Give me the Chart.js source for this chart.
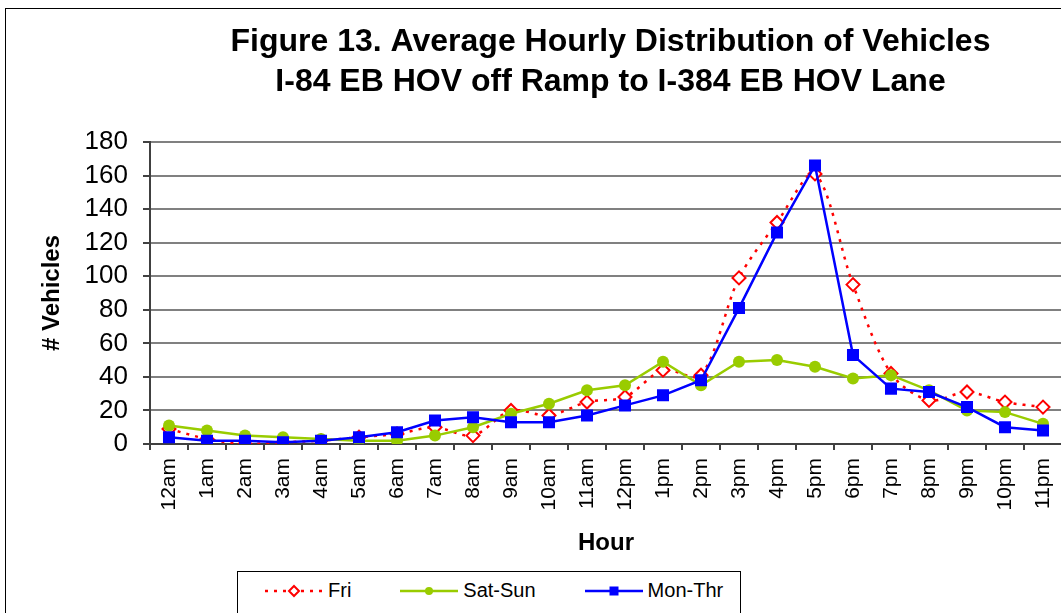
<!DOCTYPE html>
<html>
<head>
<meta charset="utf-8">
<script src="https://cdn.jsdelivr.net/npm/chart.js@4"></script>
<style>
  html, body { margin: 0; padding: 0; background: #fff; overflow: hidden; }
  body { width: 1061px; height: 613px; position: relative; font-family: "Liberation Sans", Arial, sans-serif; }
  #frame { position: absolute; left: 5px; top: 8px; width: 1300px; height: 700px; border: 1px solid #000; }
  #chart { display: block; }
  #legend {
    position: absolute; left: 237px; top: 571px; width: 504px; height: 60px;
    border: 1px solid #000; background: #fff;
    display: flex; align-items: flex-start; padding: 7px 0 0 27px; box-sizing: border-box;
    font-size: 20px; color: #000; white-space: nowrap;
  }
  .item { display: flex; align-items: center; flex-shrink: 0; margin-right: 49px; }
  .item span { margin-left: 5px; }
</style>
</head>
<body>
<div id="frame"><canvas id="chart" width="1209" height="560"></canvas></div>
<div id="legend"></div>
<script>
const FONT = "'Liberation Sans', Arial, sans-serif";

const hours = ["12am", "1am", "2am", "3am", "4am", "5am", "6am", "7am", "8am", "9am", "10am", "11am",
  "12pm", "1pm", "2pm", "3pm", "4pm", "5pm", "6pm", "7pm", "8pm", "9pm", "10pm", "11pm"];

const fri = [9, 3, 0, 1, 2, 4, 6, 10, 5, 20, 17, 25, 28, 44, 41, 99, 132, 161, 95, 42, 26, 31, 25, 22];
const satSun = [11, 8, 5, 4, 3, 2, 2, 5, 10, 18, 24, 32, 35, 49, 35, 49, 50, 46, 39, 41, 32, 20, 19, 12];
const monThr = [4, 2, 2, 1, 2, 4, 7, 14, 16, 13, 13, 17, 23, 29, 38, 81, 126, 166, 53, 33, 31, 22, 10, 8];

const yTicks = [0, 20, 40, 60, 80, 100, 120, 140, 160, 180];

const titleLines = [
  "Figure 13. Average Hourly Distribution of Vehicles",
  "I-84 EB HOV off Ramp to I-384 EB HOV Lane",
];

const datasets = [
  {
    label: "Fri",
    data: fri,
    borderColor: "#ff0000",
    borderWidth: 2.5,
    borderDash: [3, 6],
    tension: 0.3,
    pointStyle: "rectRot",
    pointRadius: 6.5,
    pointBorderWidth: 2,
    pointBorderColor: "#ff0000",
    pointBackgroundColor: "#ffffff",
    fill: false,
    order: 2,
  },
  {
    label: "Sat-Sun",
    data: satSun,
    borderColor: "#99cc00",
    borderWidth: 2.5,
    tension: 0,
    pointStyle: "circle",
    pointRadius: 6,
    pointBorderWidth: 0,
    pointBorderColor: "#99cc00",
    pointBackgroundColor: "#99cc00",
    fill: false,
    order: 1,
  },
  {
    label: "Mon-Thr",
    data: monThr,
    borderColor: "#0000ff",
    borderWidth: 2.5,
    tension: 0,
    pointStyle: "rect",
    pointRadius: 8.5,
    pointBorderWidth: 0,
    pointBorderColor: "#0000ff",
    pointBackgroundColor: "#0000ff",
    fill: false,
    order: 0,
  },
];

new Chart(document.getElementById("chart"), {
  type: "line",
  data: { labels: hours, datasets },
  options: {
    responsive: false,
    animation: false,
    plugins: {
      legend: { display: false },
      tooltip: { enabled: false },
      title: {
        display: true,
        text: titleLines,
        color: "#000",
        font: { family: FONT, size: 32, weight: "bold", lineHeight: 1.25 },
        padding: { top: 13, bottom: 40 },
      },
    },
    scales: {
      x: {
        type: "category",
        offset: true,
        grid: { offset: true, drawOnChartArea: false, tickLength: 6, color: "#404040", lineWidth: 2 },
        border: { color: "#404040", width: 2 },
        ticks: {
          autoSkip: false, minRotation: 90, maxRotation: 90, padding: 8,
          color: "#000", font: { family: FONT, size: 21 },
        },
        title: {
          display: true, text: "Hour", color: "#000",
          font: { family: FONT, size: 24, weight: "bold" },
          padding: { top: 0, bottom: 11 },
        },
        afterFit: (s) => { s.height = 125; },
      },
      y: {
        min: yTicks[0],
        max: yTicks[yTicks.length - 1],
        afterBuildTicks: (s) => { s.ticks = yTicks.map((v) => ({ value: v })); },
        grid: { color: "#808080", lineWidth: 2, tickLength: 7, tickColor: "#404040" },
        border: { color: "#404040", width: 2 },
        ticks: { autoSkip: false, padding: 15, color: "#000", font: { family: FONT, size: 26 } },
        title: {
          display: true, text: "# Vehicles", color: "#000",
          font: { family: FONT, size: 24, weight: "bold" },
          padding: { top: 32, bottom: 0 },
        },
        afterFit: (s) => { s.width = 144; },
      },
      // empty right-hand axis: keeps the plot cut at the window edge while the title stays centred on the frame
      spacer: {
        position: "right",
        display: true,
        grid: { display: false },
        border: { display: false },
        ticks: { display: false },
        afterFit: (s) => { s.width = 153; },
      },
    },
  },
});

// legend box drawn as html, samples built from the dataset styles (markers a bit smaller than on the plot)
function sampleSvg(ds) {
  const w = 58, h = 20, cx = w / 2, cy = h / 2;
  const dash = ds.borderDash ? ` stroke-dasharray="${ds.borderDash.join(",")}"` : "";
  const line = `<line x1="0" y1="${cy}" x2="${w}" y2="${cy}" stroke="${ds.borderColor}" stroke-width="${ds.borderWidth}"${dash}/>`;
  let mark = "";
  if (ds.pointStyle === "rectRot") {
    const r = 5;
    mark = `<polygon points="${cx},${cy - r} ${cx + r},${cy} ${cx},${cy + r} ${cx - r},${cy}" fill="${ds.pointBackgroundColor}" stroke="${ds.pointBorderColor}" stroke-width="${ds.pointBorderWidth}"/>`;
  } else if (ds.pointStyle === "circle") {
    mark = `<circle cx="${cx}" cy="${cy}" r="4" fill="${ds.pointBackgroundColor}"/>`;
  } else {
    const s = 4.5;
    mark = `<rect x="${cx - s}" y="${cy - s}" width="${2 * s}" height="${2 * s}" fill="${ds.pointBackgroundColor}"/>`;
  }
  return `<svg width="${w}" height="${h}">${line}${mark}</svg>`;
}

document.getElementById("legend").innerHTML = datasets
  .map((ds) => `<div class="item">${sampleSvg(ds)}<span>${ds.label}</span></div>`)
  .join("");
</script>
</body>
</html>
